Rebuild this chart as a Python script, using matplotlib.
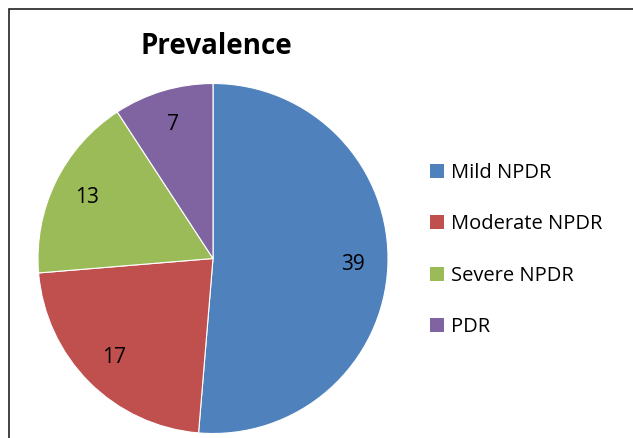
import matplotlib
matplotlib.use("Agg")
import matplotlib.pyplot as plt
from matplotlib.patches import Rectangle, Patch

categories = ["Mild NPDR", "Moderate NPDR", "Severe NPDR", "PDR"]
values = [39, 17, 13, 7]
colors = ["#4F81BD", "#C0504D", "#9BBB59", "#8064A2"]
title = "Prevalence"

W, H = 633, 438
fig = plt.figure(figsize=(W / 100, H / 100), dpi=100)
fig.patch.set_facecolor("white")

# outer frame
fig.patches.append(Rectangle((9 / W, -0.1), 1.2, (H - 9) / H + 0.1, transform=fig.transFigure,
                             fill=False, edgecolor="#222222", linewidth=1.2))

# pie axes: center (213, 258.5) px from top-left, radius 175 px
cx, cy, r = 213, 258.5, 175
ax = fig.add_axes([(cx - r) / W, (H - cy - r) / H, 2 * r / W, 2 * r / H])
wedges, texts, autotexts = ax.pie(
    values, colors=colors, startangle=90, counterclock=False,
    autopct=lambda p: f"{p * sum(values) / 100:.0f}", pctdistance=0.8,
    wedgeprops=dict(edgecolor="white", linewidth=0.8),
    textprops=dict(fontsize=15, color="black", family="Open Sans"))
ax.set_xlim(-1, 1)
ax.set_ylim(-1, 1)
ax.set_aspect("equal")

fig.text(216.5 / W, 1 - 46 / H, title, ha="center", va="center",
         fontsize=20, fontweight="bold", family="Open Sans")

handles = [Patch(facecolor=c, edgecolor="none") for c in colors]
fig.legend(handles, categories, loc="center left", bbox_to_anchor=(412 / W, 1 - 250 / H),
           frameon=False, prop=dict(family="Open Sans", size=14.5),
           handlelength=0.7, handleheight=0.7, handletextpad=0.35, labelspacing=1.55)

fig.savefig("out.png", dpi=100, facecolor="white")
